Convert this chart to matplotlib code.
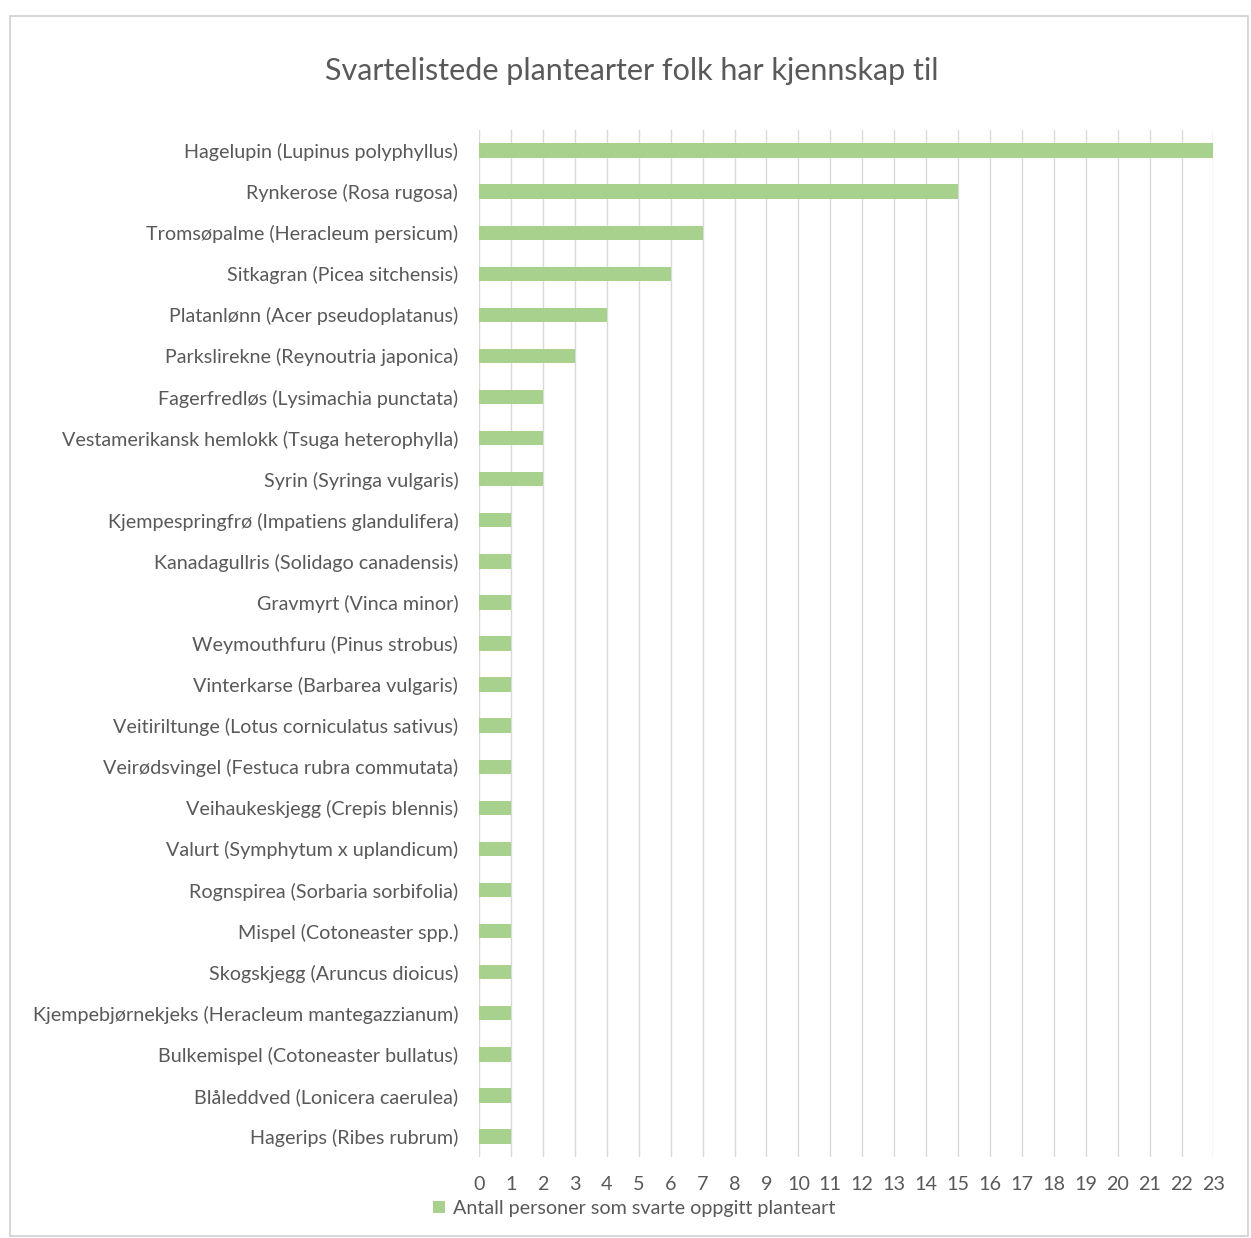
import matplotlib.pyplot as plt
from matplotlib.patches import Rectangle

plants = [
    "Hagelupin (Lupinus polyphyllus)",
    "Rynkerose (Rosa rugosa)",
    "Tromsøpalme (Heracleum persicum)",
    "Sitkagran (Picea sitchensis)",
    "Platanlønn (Acer pseudoplatanus)",
    "Parkslirekne (Reynoutria japonica)",
    "Fagerfredløs (Lysimachia punctata)",
    "Vestamerikansk hemlokk (Tsuga heterophylla)",
    "Syrin (Syringa vulgaris)",
    "Kjempespringfrø (Impatiens glandulifera)",
    "Kanadagullris (Solidago canadensis)",
    "Gravmyrt (Vinca minor)",
    "Weymouthfuru (Pinus strobus)",
    "Vinterkarse (Barbarea vulgaris)",
    "Veitiriltunge (Lotus corniculatus sativus)",
    "Veirødsvingel (Festuca rubra commutata)",
    "Veihaukeskjegg (Crepis blennis)",
    "Valurt (Symphytum x uplandicum)",
    "Rognspirea (Sorbaria sorbifolia)",
    "Mispel (Cotoneaster spp.)",
    "Skogskjegg (Aruncus dioicus)",
    "Kjempebjørnekjeks (Heracleum mantegazzianum)",
    "Bulkemispel (Cotoneaster bullatus)",
    "Blåleddved (Lonicera caerulea)",
    "Hagerips (Ribes rubrum)",
]
counts = [23, 15, 7, 6, 4, 3, 2, 2, 2, 1, 1, 1, 1, 1, 1, 1, 1, 1, 1, 1, 1, 1, 1, 1, 1]
x_ticks = list(range(0, 24))

text_col = "#595959"
bar_col = "#A9D18E"
grid_col = "#D9D9D9"

plt.rcParams["font.family"] = ["Lato", "DejaVu Sans"]

fig = plt.figure(figsize=(12.51, 12.38), dpi=100)
ax = fig.add_axes([0.383, 0.0654, 0.587, 0.8296])

pos = list(range(len(plants)))
ax.barh(pos, counts, height=0.35, color=bar_col, zorder=2,
        label="Antall personer som svarte oppgitt planteart")
ax.set_ylim(len(plants) - 0.5, -0.5)
ax.set_xlim(0, 23)
ax.set_yticks(pos)
ax.set_yticklabels(plants)
ax.set_xticks(x_ticks)
ax.tick_params(axis="both", length=0, colors=text_col, labelsize=14.2)
ax.tick_params(axis="y", pad=15)
ax.tick_params(axis="x", pad=14)
ax.xaxis.grid(True, color=grid_col, linewidth=1, zorder=0)
for s in ax.spines.values():
    s.set_visible(False)

fig.text(0.505, 0.943, "Svartelistede plantearter folk har kjennskap til",
         ha="center", va="center", fontsize=22, color=text_col)

fig.legend(loc="center", bbox_to_anchor=(0.507, 0.024), frameon=False,
           fontsize=14.2, labelcolor=text_col, handlelength=0.6,
           handleheight=0.6, handletextpad=0.4)

fig.patches.append(Rectangle((0.008, 0.002), 0.99, 0.985, transform=fig.transFigure,
                             fill=False, edgecolor="#D0D0D0", linewidth=1.2))

fig.savefig("out.png", dpi=100)
